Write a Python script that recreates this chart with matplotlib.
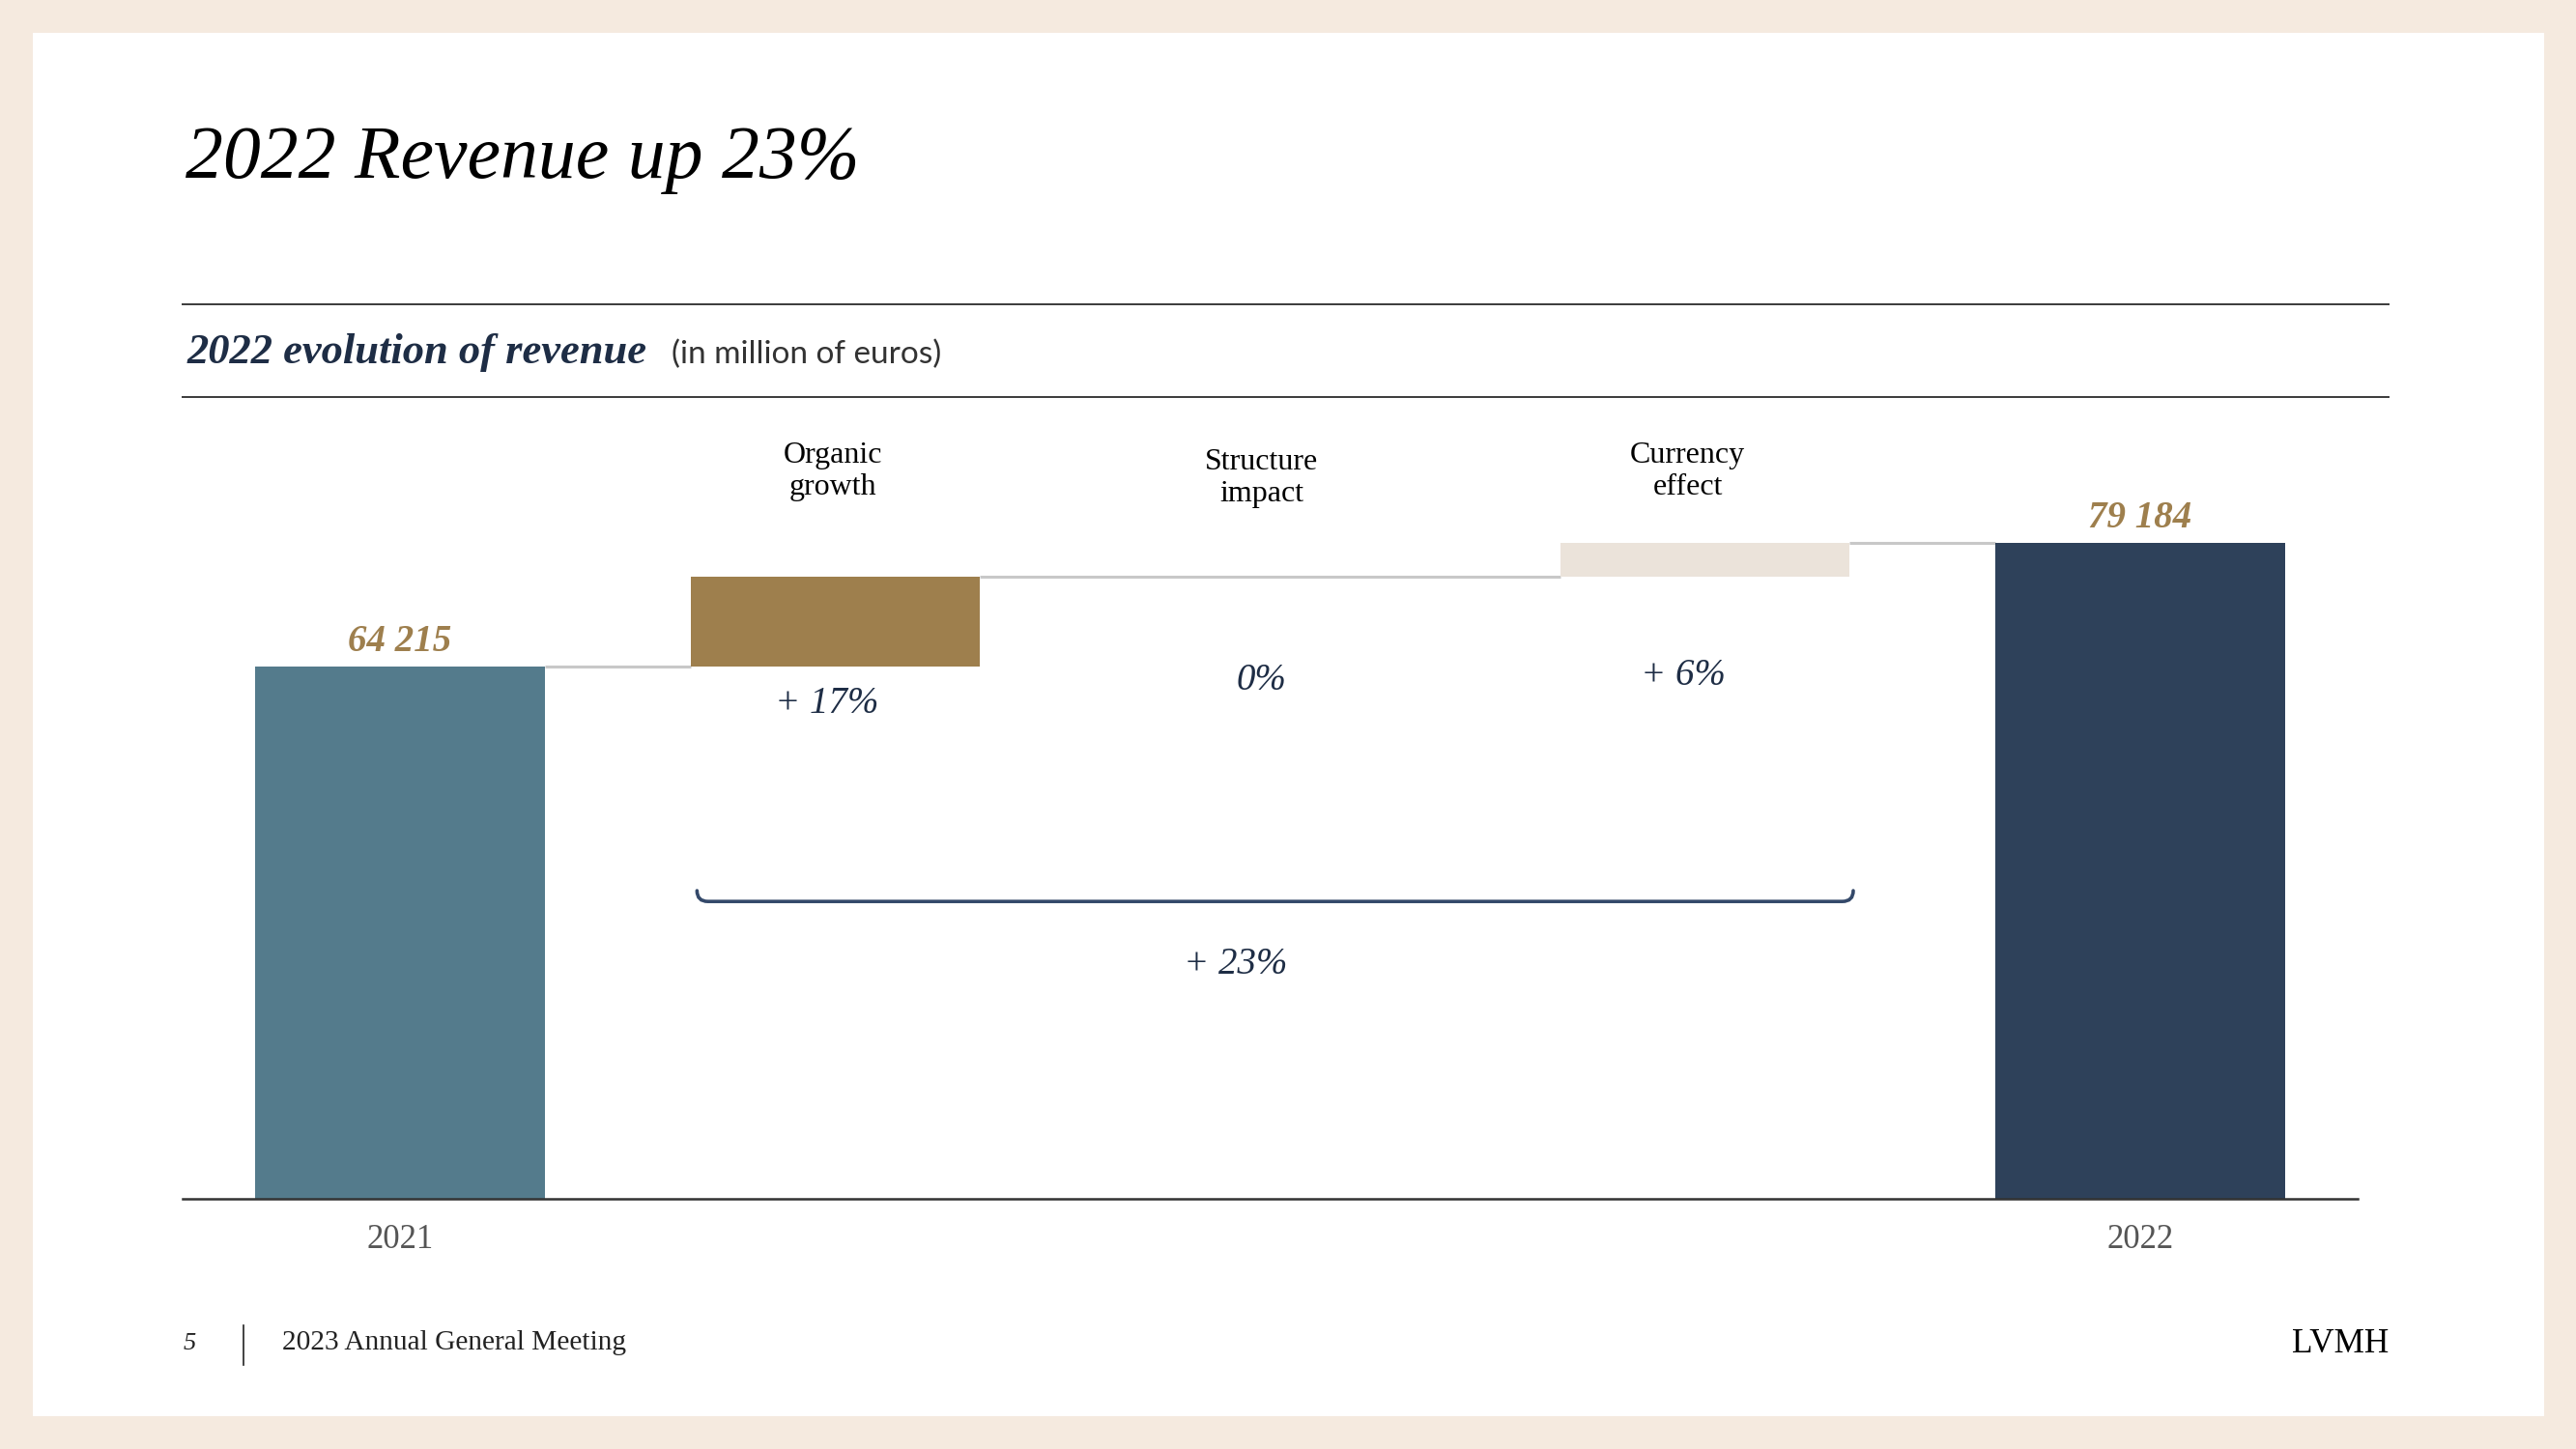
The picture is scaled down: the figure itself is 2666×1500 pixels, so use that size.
import matplotlib
matplotlib.use("Agg")
import matplotlib.pyplot as plt
from matplotlib.patches import Rectangle, PathPatch
from matplotlib.path import Path
from matplotlib.lines import Line2D

# data (million euros)
categories = ["2021", "Organic\ngrowth", "Structure\nimpact", "Currency\neffect", "2022"]
revenue_2021 = 64215
revenue_2022 = 79184
deltas = [10900, 0, 4069]
delta_labels = ["+ 17%", "0%", "+ 6%"]
total_label = "+ 23%"
value_labels = ["64 215", "79 184"]

SERIF = "Liberation Serif"
GOLD = "#9E7F4D"
NAVY = "#1E2D45"
bar_colors = ["#547B8C", GOLD, "#FFFFFF", "#EBE3DA", "#2E415A"]

W, H = 2666, 1500
fig = plt.figure(figsize=(W / 200, H / 200), dpi=200)
fig.patch.set_facecolor("#F5EADF")
fig.add_artist(Rectangle((34 / W, 1 - 1466 / H), (2633 - 34) / W, (1466 - 34) / H,
                         transform=fig.transFigure, facecolor="white", edgecolor="none", zorder=0))


def px(x, y):
    return x / W, 1 - y / H


def hline(x0, x1, y, color="#3a3a3a", lw=0.7):
    fig.add_artist(Line2D([x0 / W, x1 / W], [1 - y / H, 1 - y / H], transform=fig.transFigure,
                          color=color, lw=lw))


# header
fig.text(*px(192, 184), "2022 Revenue up 23%", family=SERIF, style="italic", fontsize=28,
         color="black", va="baseline")
hline(189, 2472, 315)
hline(189, 2472, 411)
fig.text(*px(194, 376), "2022 evolution of revenue", family=SERIF, style="italic",
         weight="bold", fontsize=16, color=NAVY, va="baseline")
fig.text(*px(695, 376), "(in million of euros)", family="Lato", fontsize=12,
         color="#333333", va="baseline")

# chart axes
ax = fig.add_axes([189 / W, 1 - 1241 / H, (2440 - 189) / W, 800 / H])
ax.set_xlim(-0.5, 4.5)
ax.set_ylim(0, 93300)
ax.patch.set_alpha(0)
for s in ["top", "right", "left"]:
    ax.spines[s].set_visible(False)
ax.spines["bottom"].set_color("#333333")
ax.spines["bottom"].set_linewidth(0.9)
ax.set_yticks([])

bw = 0.665
bottoms = [0]
heights = [revenue_2021]
level = revenue_2021
for d in deltas:
    bottoms.append(level)
    heights.append(d)
    level += d
bottoms.append(0)
heights.append(revenue_2022)

xs = list(range(len(categories)))
for x, b, h, c in zip(xs, bottoms, heights, bar_colors):
    if h == 0:
        continue
    ax.bar(x, h, bottom=b, width=bw, color=c, edgecolor="none", zorder=2)

# connectors
tops = [b + h for b, h in zip(bottoms, heights)]
for i in range(len(xs) - 1):
    if heights[i + 1] == 0:
        continue
    j = i
    while heights[j] == 0:
        j -= 1
    ax.plot([xs[j] + bw / 2, xs[i + 1] - bw / 2], [tops[j], tops[j]], color="#C8C8C8",
            lw=1.1, zorder=1, solid_capstyle="butt")

# value labels
for x, v in zip([xs[0], xs[-1]], value_labels):
    top = tops[x]
    ax.annotate(v, (x, top), xytext=(0, 2.5), textcoords="offset points", ha="center",
                va="bottom", family=SERIF, style="italic", weight="bold", fontsize=14,
                color=GOLD)

# category labels above
cat_y = [87800, 87000, 87800]
cat_dx = [-0.005, -0.02, -0.04]
for x, lab, y, dx in zip(xs[1:4], categories[1:4], cat_y, cat_dx):
    ax.text(x + dx, y, lab, ha="center", va="center", family=SERIF, fontsize=11.5,
            color="black", linespacing=1.2)

# delta labels
pct_y = [59800, 62600, 63200]
pct_dx = [-0.02, -0.02, -0.05]
for x, lab, y, dx in zip(xs[1:4], delta_labels, pct_y, pct_dx):
    ax.text(x + dx, y, lab, ha="center", va="center", family=SERIF, style="italic",
            fontsize=14, color=NAVY)

# brace
x0, x1 = xs[1] - bw / 2 + 0.015, xs[3] + bw / 2 + 0.008
yb, hb, dx = 35900, 1300, 0.025
verts = [(x0, yb + hb), (x0, yb), (x0 + dx, yb), (x1 - dx, yb), (x1, yb), (x1, yb + hb)]
codes = [Path.MOVETO, Path.CURVE3, Path.CURVE3, Path.LINETO, Path.CURVE3, Path.CURVE3]
ax.add_patch(PathPatch(Path(verts, codes), facecolor="none", edgecolor="#34496A", lw=1.3,
                       capstyle="round"))
ax.text((x0 + x1) / 2 - 0.09, 28300, total_label, ha="center", va="center", family=SERIF,
        style="italic", fontsize=14, color=NAVY)

# year ticks
ax.set_xticks([xs[0], xs[-1]])
ax.set_xticklabels([categories[0], categories[-1]], family=SERIF, fontsize=12.5,
                   color="#555555")
ax.tick_params(axis="x", length=0, pad=9.5)

# footer
fig.text(*px(190, 1397), "5", family=SERIF, style="italic", fontsize=9.5, color="#222222",
         va="baseline")
fig.add_artist(Line2D([252 / W, 252 / W], [1 - 1372 / H, 1 - 1413 / H],
                      transform=fig.transFigure, color="#222222", lw=0.6))
fig.text(*px(292, 1397), "2023 Annual General Meeting", family=SERIF, fontsize=10.6,
         color="#222222", va="baseline")
fig.text(*px(2472, 1400), "LVMH", family=SERIF, fontsize=12.7, color="black",
         va="baseline", ha="right")

fig.savefig("out.png", dpi=200, facecolor=fig.get_facecolor())
